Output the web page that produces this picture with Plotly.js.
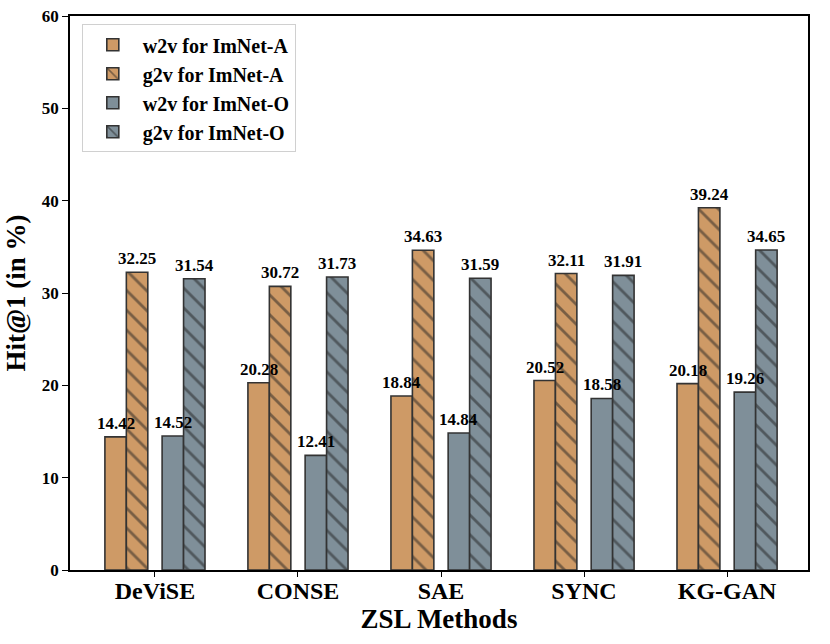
<!DOCTYPE html>
<html>
<head>
<meta charset="utf-8">
<script src="https://cdn.plot.ly/plotly-3.0.1.min.js"></script>
<style>
  html, body { margin: 0; padding: 0; background: #fff; }
  #chart { width: 830px; height: 644px; }
</style>
</head>
<body>
<div id="chart"></div>
<script>
const methods = ['DeViSE', 'CONSE', 'SAE', 'SYNC', 'KG-GAN']

const w2vImNetA = [14.42, 20.28, 18.84, 20.52, 20.18]
const g2vImNetA = [32.25, 30.72, 34.63, 32.11, 39.24]
const w2vImNetO = [14.52, 12.41, 14.84, 18.58, 19.26]
const g2vImNetO = [31.54, 31.73, 31.59, 31.91, 34.65]

const orange = '#CE9A66'
const slate = '#7F8F99'
const edge = '#333333'
const serif = '"Liberation Serif", "Times New Roman", serif'
const barW = 0.15

// series, label, colour, hatched, left offset of the bar
const series = [
  [w2vImNetA, 'w2v for ImNet-A', orange, false, -0.35],
  [g2vImNetA, 'g2v for ImNet-A', orange, true, -0.20],
  [w2vImNetO, 'w2v for ImNet-O', slate, false, 0.05],
  [g2vImNetO, 'g2v for ImNet-O', slate, true, 0.20]
]

var data = series.map(([vals, name, color, hatched, offset]) => ({
  x: methods,
  y: vals,
  name: name,
  type: 'bar',
  width: barW,
  offset: offset,
  marker: {
    color: color,
    line: {color: edge, width: 1.6},
    pattern: hatched
      ? {shape: '\\', fgcolor: '#222', bgcolor: color, size: 14, solidity: 0.2, fillmode: 'overlay'}
      : {shape: ''}
  }
}))

// value labels drawn on top of every bar
var labels = []
series.forEach(([vals, , , , offset]) => {
  vals.forEach((v, i) => {
    labels.push({
      x: i + offset + barW / 2,
      y: v,
      xref: 'x', yref: 'y',
      text: v.toFixed(2),
      showarrow: false,
      xanchor: 'center', yanchor: 'bottom',
      yshift: 2,
      font: {family: serif, size: 17, weight: 'bold', color: '#000'}
    })
  })
})

var layout = {
  width: 830,
  height: 644,
  margin: {l: 70, r: 22, t: 16, b: 74},
  barmode: 'overlay',
  paper_bgcolor: '#fff',
  plot_bgcolor: '#fff',
  font: {family: serif, color: '#000'},
  showlegend: true,
  annotations: labels,
  legend: {
    x: 0.016, y: 0.985, xanchor: 'left', yanchor: 'top',
    bgcolor: 'rgba(255,255,255,0.9)',
    bordercolor: '#d0d0d0', borderwidth: 1,
    font: {family: serif, size: 20, weight: 'bold', color: '#000'},
    itemwidth: 50
  },
  xaxis: {
    type: 'category',
    range: [-0.594, 4.566],
    showline: true, linecolor: '#000', linewidth: 1.5, mirror: true,
    ticks: 'outside', ticklen: 5, tickwidth: 1.2, tickcolor: '#000',
    ticklabelstandoff: -7,
    showgrid: false, zeroline: false,
    tickfont: {family: serif, size: 24, weight: 'bold'},
    title: {text: 'ZSL Methods', font: {family: serif, size: 27, weight: 'bold'}, standoff: 4}
  },
  yaxis: {
    range: [0, 60],
    dtick: 10,
    showline: true, linecolor: '#000', linewidth: 1.5, mirror: true,
    ticks: 'outside', ticklen: 6, tickwidth: 1.2, tickcolor: '#000',
    showgrid: false, zeroline: false,
    tickfont: {family: serif, size: 17, weight: 'bold'},
    title: {text: 'Hit@1 (in %)', font: {family: serif, size: 27, weight: 'bold'}, standoff: 8}
  }
}

Plotly.newPlot('chart', data, layout, {displayModeBar: false})
</script>
</body>
</html>
